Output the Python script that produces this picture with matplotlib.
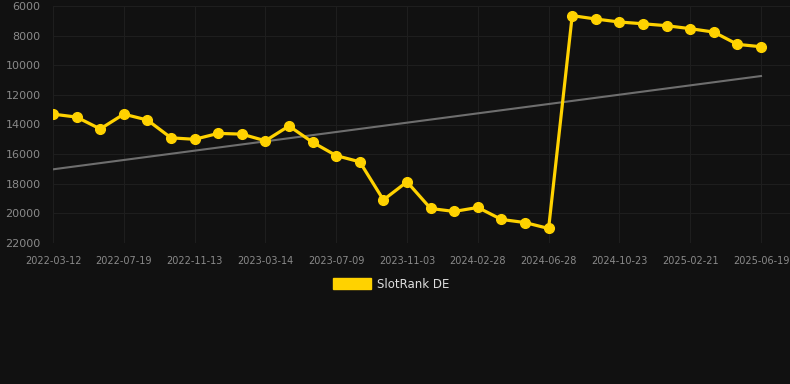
import numpy as np
import matplotlib.pyplot as plt
from matplotlib.patches import Patch

# SlotRank DE, one point per period; only every third date is labelled
ranks = [13300, 13500, 14300, 13300, 13700, 14900, 15000, 14600, 14650, 15100,
         14100, 15200, 16100, 16520, 19090, 17870, 19670, 19870, 19600, 20410,
         20620, 21020, 6650, 6880, 7080, 7200, 7330, 7530, 7760, 8590, 8750]
tick_dates = ["2022-03-12", "2022-07-19", "2022-11-13", "2023-03-14", "2023-07-09",
              "2023-11-03", "2024-02-28", "2024-06-28", "2024-10-23", "2025-02-21",
              "2025-06-19"]
y_ticks = [6000, 8000, 10000, 12000, 14000, 16000, 18000, 20000, 22000]

BG = "#111111"
YELLOW = "#ffd200"

x = np.arange(len(ranks))
slope, icpt = np.polyfit(x, ranks, 1)

fig = plt.figure(figsize=(7.9, 3.84), dpi=100, facecolor=BG)
ax = fig.add_axes([53 / 790, 1 - 243 / 384, 1 - 53 / 790, (243 - 6) / 384])
ax.set_facecolor(BG)

ax.plot(x, slope * x + icpt, color="#6e6e6e", lw=1.5, zorder=2)
ax.plot(x, ranks, color=YELLOW, lw=2.3, marker="o", ms=7, zorder=3)

ax.set_xlim(0, (790 - 53) / 23.6)
ax.set_ylim(22000, 6000)
ax.set_yticks(y_ticks)
ax.set_xticks(x[::3])
ax.set_xticklabels(tick_dates)

ax.grid(True, color="#1e1e1e", lw=0.8)
ax.set_axisbelow(True)
for s in ax.spines.values():
    s.set_visible(False)
ax.tick_params(axis="y", length=0, pad=9, labelsize=8, labelcolor="#8a8a8a")
ax.tick_params(axis="x", length=0, pad=9, labelsize=7, labelcolor="#8a8a8a")

fig.legend(handles=[Patch(color=YELLOW, label="SlotRank DE")],
           loc="center", bbox_to_anchor=(0.495, 1 - 284 / 384), frameon=False,
           handlelength=3.2, handleheight=1.0, fontsize=8.5, labelcolor="#dddddd",
           handletextpad=0.5)

fig.savefig("out.png", dpi=100, facecolor=BG)
